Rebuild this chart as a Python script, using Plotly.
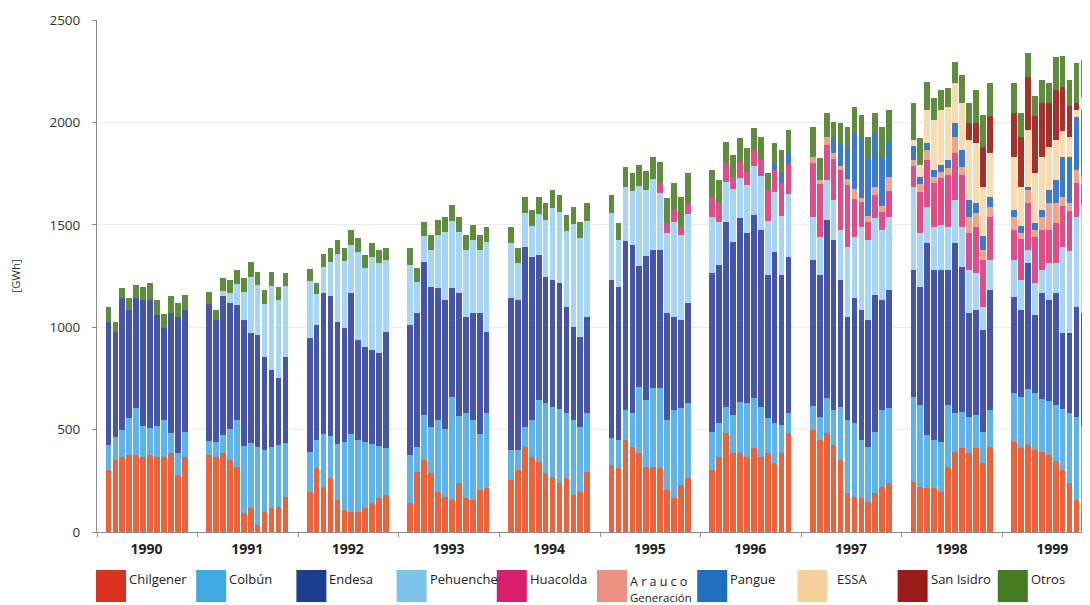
import plotly.graph_objects as go

years = [str(y) for y in range(1990, 2000)]

# monthly generation [GWh], 12 values per year, 1990 .. 1999
chilgener = [
    303, 352, 368, 376, 376, 368, 376, 368, 368, 384, 278, 368,
    376, 368, 384, 352, 319, 91, 116, 34, 99, 116, 124, 173,
    197, 311, 221, 262, 156, 107, 99, 99, 116, 140, 164, 181,
    140, 295, 352, 287, 197, 172, 156, 238, 164, 156, 205, 213,
    254, 303, 417, 368, 344, 287, 270, 238, 262, 181, 197, 295,
    327, 311, 449, 417, 384, 319, 319, 311, 205, 164, 230, 262,
    303, 368, 482, 384, 384, 368, 409, 368, 384, 335, 384, 482,
    497, 448, 482, 425, 352, 189, 173, 164, 148, 189, 221, 238,
    246, 221, 213, 213, 197, 319, 392, 409, 384, 409, 335, 417,
    441, 409, 425, 400, 392, 376, 347, 303, 239, 156, 107, 83,
]
colbun = [
    120, 110, 130, 180, 230, 150, 130, 150, 180, 100, 110, 120,
    70, 70, 90, 150, 230, 330, 320, 380, 300, 300, 300, 260,
    193, 139, 259, 208, 274, 333, 381, 351, 324, 290, 256, 229,
    236, 122, 218, 228, 348, 333, 504, 327, 416, 389, 275, 367,
    146, 97, 98, 177, 301, 343, 340, 362, 318, 364, 318, 285,
    130, 138, 147, 163, 326, 326, 383, 391, 342, 432, 374, 366,
    187, 163, 130, 187, 253, 260, 244, 244, 171, 196, 139, 100,
    117, 115, 171, 171, 260, 358, 358, 285, 269, 301, 375, 366,
    415, 399, 261, 236, 244, 301, 188, 179, 179, 162, 155, 179,
    236, 251, 275, 280, 258, 264, 273, 297, 341, 404, 413, 417,
]
endesa = [
    604, 516, 643, 528, 535, 615, 627, 542, 447, 584, 664, 596,
    668, 596, 676, 618, 561, 614, 534, 546, 457, 374, 326, 423,
    556, 561, 686, 680, 597, 555, 686, 488, 465, 460, 453, 568,
    635, 651, 750, 683, 645, 628, 530, 601, 472, 523, 588, 398,
    741, 733, 879, 800, 708, 617, 621, 615, 521, 458, 439, 472,
    774, 749, 824, 820, 590, 705, 675, 675, 521, 456, 431, 489,
    773, 773, 904, 847, 895, 831, 895, 863, 700, 838, 732, 763,
    714, 692, 871, 830, 619, 505, 610, 635, 618, 667, 537, 578,
    619, 578, 936, 831, 839, 660, 830, 708, 505, 513, 497, 586,
    472, 424, 612, 380, 516, 493, 546, 370, 390, 541, 548, 600,
]
pehuenche = [
    0, 0, 0, 0, 0, 0, 0, 0, 0, 0, 0, 0,
    0, 0, 29, 46, 100, 139, 275, 246, 256, 411, 383, 347,
    278, 150, 126, 167, 329, 327, 233, 427, 382, 451, 439, 349,
    293, 155, 123, 180, 261, 334, 327, 301, 326, 358, 310, 440,
    270, 182, 164, 148, 200, 278, 349, 346, 367, 501, 482, 468,
    325, 230, 265, 265, 390, 320, 346, 277, 392, 461, 413, 435,
    277, 211, 194, 257, 197, 236, 238, 262, 266, 291, 287, 304,
    212, 187, 195, 195, 244, 342, 301, 407, 391, 374, 342, 358,
    407, 261, 179, 211, 219, 211, 212, 195, 212, 179, 114, 146,
    179, 147, 65, 154, 114, 179, 146, 424, 400, 439, 529, 630,
]
huacolda = [0] * 60 + [
    0, 0, 0, 0, 0, 0, 0, 50, 50, 65, 40, 50,
    98, 90, 90, 60, 80, 65, 80, 80, 150, 110, 160, 150,
    263, 257, 172, 200, 293, 298, 185, 120, 87, 116, 88, 126,
    100, 200, 227, 214, 230, 250, 228, 253, 179, 228, 228, 212,
    147, 200, 228, 228, 195, 163, 195, 200, 195, 163, 98, 100,
]
arauco = [0] * 84 + [
    30, 20, 40, 30, 20, 30, 50, 20, 30, 40, 30, 65,
    30, 40, 49, 30, 30, 35, 81, 40, 81, 65, 49, 49,
    65, 28, 65, 33, 65, 130, 98, 40, 40, 65, 40, 50,
]
pangue = [0] * 72 + [
    0, 0, 0, 0, 0, 0, 0, 0, 0, 30, 50, 50,
    0, 0, 0, 80, 110, 160, 270, 300, 290, 260, 240, 180,
    68, 33, 33, 33, 33, 41, 65, 81, 81, 49, 65, 49,
    33, 33, 16, 33, 33, 65, 114, 195, 228, 260, 326, 300,
]
essa = [0] * 96 + [
    30, 60, 163, 244, 269, 260, 195, 228, 293, 293, 244, 212,
    260, 195, 277, 244, 260, 212, 195, 130, 98, 33, 65, 80,
]
san_isidro = [0] * 96 + [
    0, 0, 0, 0, 0, 0, 0, 0, 81, 98, 195, 179,
    212, 244, 260, 277, 260, 212, 244, 212, 147, 33, 0, 0,
]
otros = [
    73, 49, 49, 57, 65, 62, 85, 73, 70, 85, 65, 73,
    60, 50, 60, 65, 70, 65, 75, 65, 70, 70, 65, 60,
    60, 55, 65, 70, 70, 65, 75, 70, 65, 70, 65, 60,
    81, 65, 73, 73, 73, 73, 80, 73, 73, 73, 73, 73,
    80, 70, 80, 80, 85, 80, 90, 85, 80, 85, 80, 85,
    90, 80, 95, 90, 100, 95, 110, 105, 120, 125, 150, 150,
    130, 114, 106, 106, 114, 114, 106, 114, 81, 98, 114, 114,
    147, 106, 114, 73, 98, 98, 130, 106, 98, 98, 147, 150,
    179, 131, 138, 106, 98, 90, 106, 138, 98, 163, 154, 163,
    146, 114, 114, 98, 114, 98, 163, 155, 130, 195, 179, 140,
]

# name, values, bar colour, legend colour
series = [
    ('Chilgener', chilgener, '#e9643c', '#d8311d'),
    ('Colbún', colbun, '#5fb3e6', '#41a9e2'),
    ('Endesa', endesa, '#4655a6', '#1d3e90'),
    ('Pehuenche', pehuenche, '#a8d6f2', '#7fc3ea'),
    ('Huacolda', huacolda, '#dd4f8a', '#d81f6d'),
    ('Arauco Generación', arauco, '#f0a48e', '#ec9084'),
    ('Pangue', pangue, '#3b7bc9', '#1f6fbf'),
    ('ESSA', essa, '#f7dbb3', '#f5d29c'),
    ('San Isidro', san_isidro, '#a2322b', '#9b1b1b'),
    ('Otros', otros, '#5f8c3d', '#447b22'),
]

# 12 monthly bars per year, then a gap before the next year
period = 14.5
lead = 1.15
x = [i * period + lead + m + 0.5 for i in range(len(years)) for m in range(12)]
year_centers = [i * period + lead + 6 for i in range(len(years))]
year_edges = [i * period for i in range(len(years) + 1)]

fig = go.Figure()
for name, vals, color, _ in series:
    fig.add_trace(go.Bar(name=name, x=x, y=vals, width=0.82,
                         marker=dict(color=color, line=dict(width=0)),
                         showlegend=False))

# plot area in window pixels: x 97..1090, y 20..532
def px_x(p):
    return (p - 97) / 993


def px_y(p):
    return (532 - p) / 512


shapes = []
annotations = []
for i, (name, vals, _, legend_color) in enumerate(series):
    left = 96 + 100.2 * i
    shapes.append(dict(type='rect', xref='paper', yref='paper',
                       x0=px_x(left), x1=px_x(left + 30),
                       y0=px_y(602), y1=px_y(570),
                       fillcolor=legend_color, line=dict(width=0)))
    tx = left + 31 + (7 if name == 'ESSA' else 0)
    if name == 'Arauco Generación':
        annotations.append(dict(xref='paper', yref='paper', x=px_x(tx), y=px_y(571),
                                xanchor='left', yanchor='top', align='left',
                                text='A r a u c o<br><span style="font-size:11.5px">Generación</span>',
                                showarrow=False, font=dict(size=12.5, color='#222')))
    else:
        annotations.append(dict(xref='paper', yref='paper', x=px_x(tx), y=px_y(579),
                                xanchor='left', yanchor='middle', text=name,
                                showarrow=False, font=dict(size=13, color='#222')))

# the page body adds an 8px margin, so the figure is sized to fit inside it
fig.update_layout(
    barmode='stack',
    width=1082, height=597,
    margin=dict(l=89, r=0, t=12, b=73),
    paper_bgcolor='white', plot_bgcolor='white',
    font=dict(family='Open Sans', color='#222'),
    shapes=shapes,
    annotations=annotations,
)
fig.update_xaxes(
    range=[0, 143.1], tickmode='array', tickvals=year_centers, ticktext=years,
    ticks='', ticklabelstandoff=4,
    tickfont=dict(size=14, weight='bold', color='#222'),
    showline=True, linecolor='#8c8c8c', linewidth=1, showgrid=False, zeroline=False,
    minor=dict(tickmode='array', tickvals=year_edges, ticks='outside',
               ticklen=4, tickcolor='#8c8c8c', showgrid=False),
)
fig.update_yaxes(
    range=[0, 2500], tickvals=[0, 500, 1000, 1500, 2000, 2500],
    ticks='outside', ticklen=4, tickcolor='#8c8c8c', ticklabelstandoff=9,
    tickfont=dict(size=13.5, color='#333'),
    showline=True, linecolor='#8c8c8c', linewidth=1,
    showgrid=True, gridcolor='#ececec', zeroline=False,
    title=dict(text='[GWh]', font=dict(size=11.5, color='#333'), standoff=26),
    automargin=False,
)

fig.write_html("out.html")
